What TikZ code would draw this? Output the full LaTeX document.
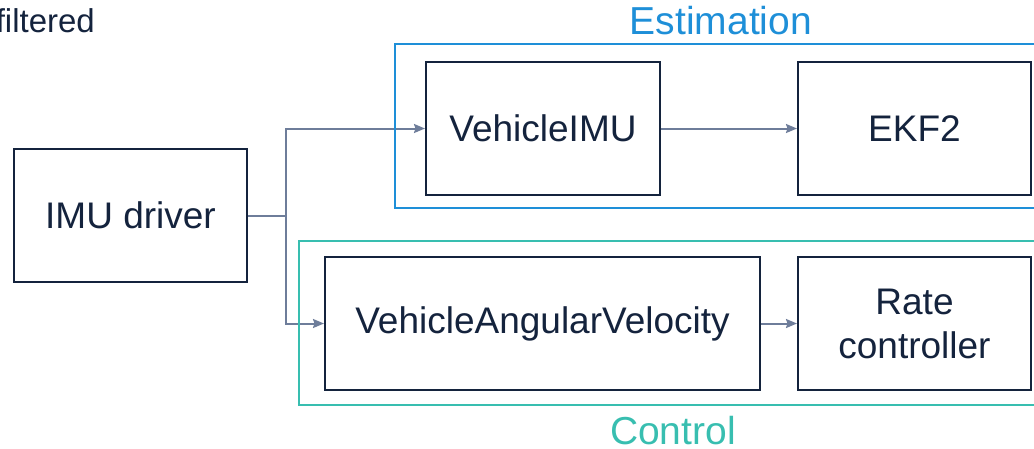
\documentclass[tikz,border=0pt]{standalone}
\usepackage{fontspec}
\setmainfont{Liberation Sans}
\usetikzlibrary{arrows.meta}
\definecolor{navy}{HTML}{14233D}
\definecolor{conncol}{HTML}{6E7D9A}
\definecolor{estblue}{HTML}{1E8FD8}
\definecolor{ctrlteal}{HTML}{38BEB0}
\begin{document}
\begin{tikzpicture}[x=1pt,y=-1pt,
  block/.style={draw=navy, line width=2pt, fill=white, text=navy, minimum height=133pt,
    inner sep=0pt, align=center, font=\fontsize{37}{44}\selectfont},
  conn/.style={draw=conncol, line width=2pt, -{Stealth[length=11pt,width=9pt,inset=1.5pt]}},
  plainconn/.style={draw=conncol, line width=2pt},
  frame/.style={line width=2pt},
  grouplabel/.style={font=\fontsize{39}{44}\selectfont, inner sep=0pt, anchor=base}]
\useasboundingbox (0,0) rectangle (1034,448);
\clip (0,0) rectangle (1034,448);
\node[text=navy, inner sep=0pt, anchor=base east, font=\fontsize{33}{38}\selectfont] (filt) at (95,32) {filtered};
\node[block, minimum width=233pt] (drv) at (130.5,215.5) {IMU driver};
\node[block, minimum width=234pt] (vimu) at (543,128.5) {VehicleIMU};
\node[block, minimum width=233pt] (ekf) at (914.5,128.5) {EKF2};
\node[block, minimum width=435pt] (vav) at (542.5,323.5) {VehicleAngularVelocity};
\node[block, minimum width=233pt] (rate) at (914.5,323.5) {Rate\\controller};
\coordinate (j) at (286,215.5);
\draw[plainconn] (drv.east) -- (j);
\draw[conn] (j) |- (vimu.west);
\draw[conn] (j) |- (vav.west);
\draw[conn] (vimu.east) -- (ekf.west);
\draw[conn] (vav.east) -- (rate.west);
\draw[frame, draw=estblue] (1045,44) -- (395,44) -- (395,208) -- (1045,208);
\draw[frame, draw=ctrlteal] (1045,241) -- (299,241) -- (299,405) -- (1045,405);
\node[grouplabel, text=estblue] (estlabel) at (721,34) {Estimation};
\node[grouplabel, text=ctrlteal] (ctrllabel) at (673,444) {Control};
\end{tikzpicture}
\end{document}
